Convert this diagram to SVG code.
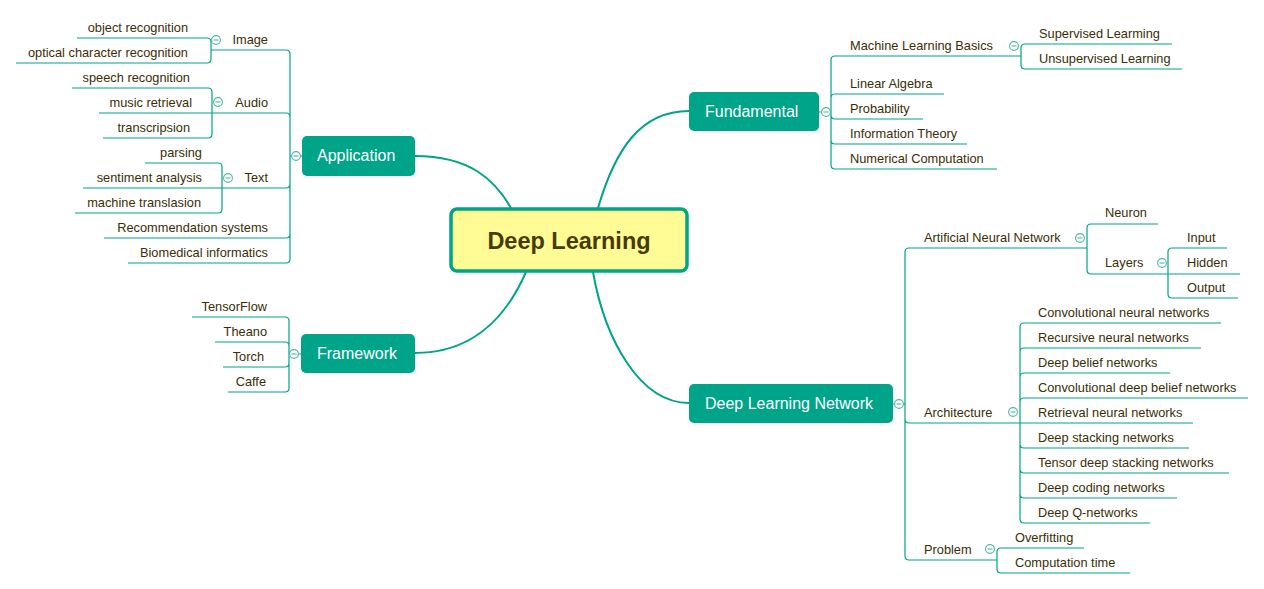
<svg xmlns="http://www.w3.org/2000/svg" width="1264" height="589" viewBox="0 0 1264 589">
<style>
.bg{fill:#ffffff}
.ln{fill:none;stroke:#00A488;stroke-width:1.2}
.cv{fill:none;stroke:#00A488;stroke-width:2}
.node{fill:#00A488}
.nt{font-family:"Liberation Sans",Arial,sans-serif;font-size:16px;fill:#ffffff}
.t{font-family:"Liberation Sans",Arial,sans-serif;font-size:12.8px;fill:#3B2E05}
.e{text-anchor:end}
.btn circle{fill:#ffffff;stroke:#4DB8A3;stroke-width:1.1}
.btn path{stroke:#4DB8A3;stroke-width:1.1}
</style>
<rect class="bg" x="0" y="0" width="1264" height="589"/>
<g id="connectors">
<path class="cv" d="M511,208 C495,180 470,156 415,156"/>
<path class="cv" d="M526,272 C505,320 470,353 415,353"/>
<path class="cv" d="M598,208 C615,150 640,111 689,111"/>
<path class="cv" d="M593,272 C605,340 640,403 689,403"/>
<path class="ln" d="M290,156 H302 M289,354 H301 M819,112 H831 M893,404 H905"/>
<path class="ln" d="M290,156 V54 Q290,50 286,50 H211 M290,156 V117 Q290,113 286,113 H212 M290,156 V184 Q290,188 286,188 H222 M290,156 V234 Q290,238 286,238 H104 M290,156 V259 Q290,263 286,263 H128"/>
<path class="ln" d="M211,50 V42 Q211,38 207,38 H77 M211,50 V59 Q211,63 207,63 H16"/>
<path class="ln" d="M212,113 V92 Q212,88 208,88 H72 M212,113 H99 M212,113 V134 Q212,138 208,138 H103"/>
<path class="ln" d="M222,188 V167 Q222,163 218,163 H145 M222,188 H83 M222,188 V209 Q222,213 218,213 H75"/>
<path class="ln" d="M289,354 V321 Q289,317 285,317 H192 M289,354 V346 Q289,342 285,342 H215 M289,354 V363 Q289,367 285,367 H223 M289,354 V388 Q289,392 285,392 H228"/>
<path class="ln" d="M831,112 V60 Q831,56 835,56 H1021 M831,112 V98 Q831,94 835,94 H944 M831,112 V115 Q831,119 835,119 H923 M831,112 V140 Q831,144 835,144 H967 M831,112 V165 Q831,169 835,169 H997"/>
<path class="ln" d="M1021,56 V48 Q1021,44 1025,44 H1172 M1021,56 V65 Q1021,69 1025,69 H1182"/>
<path class="ln" d="M905,404 V252 Q905,248 909,248 H1087 M905,404 V419 Q905,423 909,423 H1020 M905,404 V556 Q905,560 909,560 H997"/>
<path class="ln" d="M1087,248 V228 Q1087,224 1091,224 H1158 M1087,248 V270 Q1087,274 1091,274 H1168"/>
<path class="ln" d="M1168,274 V252 Q1168,248 1172,248 H1227 M1168,274 H1240 M1168,274 V294 Q1168,298 1172,298 H1238"/>
<path class="ln" d="M1020,423 V327 Q1020,323 1024,323 H1221 M1020,423 V352 Q1020,348 1024,348 H1201 M1020,423 V377 Q1020,373 1024,373 H1170 M1020,423 V402 Q1020,398 1024,398 H1248 M1020,423 H1193 M1020,423 V444 Q1020,448 1024,448 H1189 M1020,423 V469 Q1020,473 1024,473 H1229 M1020,423 V494 Q1020,498 1024,498 H1177 M1020,423 V519 Q1020,523 1024,523 H1150"/>
<path class="ln" d="M997,560 V552 Q997,548 1001,548 H1084 M997,560 V569 Q997,573 1001,573 H1130"/>
</g>
<g id="deep-learning">
<rect x="451" y="209" width="236" height="62" rx="6" fill="#FFFC96" stroke="#00A488" stroke-width="3.5"/>
<text x="569" y="249" text-anchor="middle" font-family="'Liberation Sans',Arial,sans-serif" font-size="23.5px" font-weight="bold" fill="#4A3A05">Deep Learning</text>
</g>
<g id="application">
<rect class="node" x="302" y="136" width="113" height="40" rx="5"/>
<text class="nt" x="317" y="161">Application</text>
<g class="btn"><circle cx="296" cy="156" r="4.4"/><path d="M293.5,156 H298.5"/></g>
</g>
<g id="framework">
<rect class="node" x="301" y="334" width="114" height="39" rx="5"/>
<text class="nt" x="317" y="359">Framework</text>
<g class="btn"><circle cx="294" cy="354" r="4.4"/><path d="M291.5,354 H296.5"/></g>
</g>
<g id="fundamental">
<rect class="node" x="689" y="92" width="130" height="39" rx="5"/>
<text class="nt" x="705" y="117">Fundamental</text>
<g class="btn"><circle cx="826" cy="112" r="4.4"/><path d="M823.5,112 H828.5"/></g>
</g>
<g id="deep-learning-network">
<rect class="node" x="689" y="384" width="204" height="39" rx="5"/>
<text class="nt" x="705" y="409">Deep Learning Network</text>
<g class="btn"><circle cx="899" cy="404" r="4.4"/><path d="M896.5,404 H901.5"/></g>
</g>
<g id="image">
<text class="t e" x="268" y="44">Image</text>
<g class="btn"><circle cx="216" cy="40" r="4.4"/><path d="M213.5,40 H218.5"/></g>
</g>
<g id="object-recognition"><text class="t e" x="188" y="32">object recognition</text></g>
<g id="ocr"><text class="t e" x="188" y="57">optical character recognition</text></g>
<g id="audio">
<text class="t e" x="268" y="107">Audio</text>
<g class="btn"><circle cx="218" cy="102" r="4.4"/><path d="M215.5,102 H220.5"/></g>
</g>
<g id="speech-recognition"><text class="t e" x="190" y="82">speech recognition</text></g>
<g id="music-retrieval"><text class="t e" x="192" y="107">music retrieval</text></g>
<g id="transcripsion"><text class="t e" x="190" y="132">transcripsion</text></g>
<g id="text">
<text class="t e" x="268" y="182">Text</text>
<g class="btn"><circle cx="228" cy="178" r="4.4"/><path d="M225.5,178 H230.5"/></g>
</g>
<g id="parsing"><text class="t e" x="202" y="157">parsing</text></g>
<g id="sentiment-analysis"><text class="t e" x="202" y="182">sentiment analysis</text></g>
<g id="machine-translasion"><text class="t e" x="201" y="207">machine translasion</text></g>
<g id="recommendation"><text class="t e" x="268" y="232">Recommendation systems</text></g>
<g id="biomedical"><text class="t e" x="268" y="257">Biomedical informatics</text></g>
<g id="tensorflow"><text class="t e" x="267" y="311">TensorFlow</text></g>
<g id="theano"><text class="t e" x="267" y="336">Theano</text></g>
<g id="torch"><text class="t e" x="264" y="361">Torch</text></g>
<g id="caffe"><text class="t e" x="266" y="386">Caffe</text></g>
<g id="ml-basics">
<text class="t" x="850" y="50">Machine Learning Basics</text>
<g class="btn"><circle cx="1014" cy="46" r="4.4"/><path d="M1011.5,46 H1016.5"/></g>
</g>
<g id="supervised"><text class="t" x="1039" y="38">Supervised Learming</text></g>
<g id="unsupervised"><text class="t" x="1039" y="63">Unsupervised Learning</text></g>
<g id="linear-algebra"><text class="t" x="850" y="88">Linear Algebra</text></g>
<g id="probability"><text class="t" x="850" y="113">Probability</text></g>
<g id="information-theory"><text class="t" x="850" y="138">Information Theory</text></g>
<g id="numerical-computation"><text class="t" x="850" y="163">Numerical Computation</text></g>
<g id="ann">
<text class="t" x="924" y="242">Artificial Neural Network</text>
<g class="btn"><circle cx="1080" cy="238" r="4.4"/><path d="M1077.5,238 H1082.5"/></g>
</g>
<g id="neuron"><text class="t" x="1105" y="217">Neuron</text></g>
<g id="layers">
<text class="t" x="1105" y="267">Layers</text>
<g class="btn"><circle cx="1162" cy="263" r="4.4"/><path d="M1159.5,263 H1164.5"/></g>
</g>
<g id="input"><text class="t" x="1187" y="242">Input</text></g>
<g id="hidden"><text class="t" x="1187" y="267">Hidden</text></g>
<g id="output"><text class="t" x="1187" y="292">Output</text></g>
<g id="architecture">
<text class="t" x="924" y="417">Architecture</text>
<g class="btn"><circle cx="1013" cy="412" r="4.4"/><path d="M1010.5,412 H1015.5"/></g>
</g>
<g id="cnn"><text class="t" x="1038" y="317">Convolutional neural networks</text></g>
<g id="rnn"><text class="t" x="1038" y="342">Recursive neural networks</text></g>
<g id="dbn"><text class="t" x="1038" y="367">Deep belief networks</text></g>
<g id="cdbn"><text class="t" x="1038" y="392">Convolutional deep belief networks</text></g>
<g id="retrieval"><text class="t" x="1038" y="417">Retrieval neural networks</text></g>
<g id="dsn"><text class="t" x="1038" y="442">Deep stacking networks</text></g>
<g id="tdsn"><text class="t" x="1038" y="467">Tensor deep stacking networks</text></g>
<g id="dcn"><text class="t" x="1038" y="492">Deep coding networks</text></g>
<g id="dqn"><text class="t" x="1038" y="517">Deep Q-networks</text></g>
<g id="problem">
<text class="t" x="924" y="554">Problem</text>
<g class="btn"><circle cx="990" cy="549" r="4.4"/><path d="M987.5,549 H992.5"/></g>
</g>
<g id="overfitting"><text class="t" x="1015" y="542">Overfitting</text></g>
<g id="computation-time"><text class="t" x="1015" y="567">Computation time</text></g>
</svg>
